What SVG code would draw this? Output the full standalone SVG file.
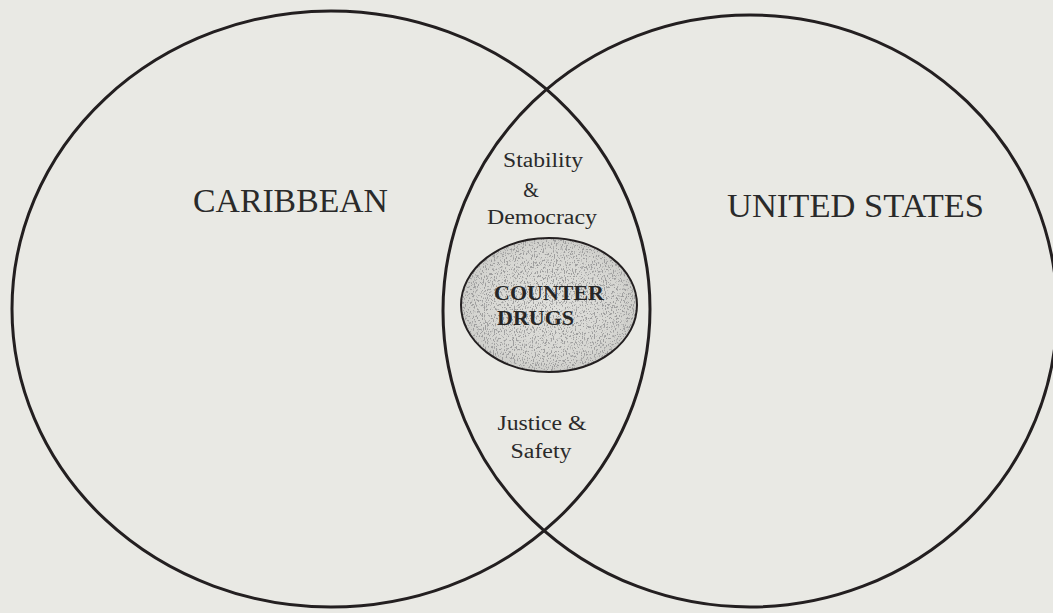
<svg xmlns="http://www.w3.org/2000/svg" width="1053" height="613" viewBox="0 0 1053 613">
  <style>
    .ring { fill: none; stroke: #231f20; stroke-width: 3; }
    .big { font-family: "Liberation Serif", "Times New Roman", serif; font-size: 34px; fill: #2a2a2a; }
    .small { font-family: "Liberation Serif", "Times New Roman", serif; font-size: 20px; fill: #2a2a2a; text-anchor: middle; }
    .core { font-family: "Liberation Serif", "Times New Roman", serif; font-size: 22px; font-weight: bold; fill: #262626; }
  </style>
  <defs>
    <radialGradient id="ovalFill" cx="0.5" cy="0.5" r="0.55">
      <stop offset="0" stop-color="#e0e0dc"/>
      <stop offset="0.75" stop-color="#d6d6d2"/>
      <stop offset="1" stop-color="#c8c8c4"/>
    </radialGradient>
    <filter id="speck" filterUnits="objectBoundingBox" x="0" y="0" width="1" height="1">
      <feTurbulence type="fractalNoise" baseFrequency="0.9 0.45" numOctaves="3" seed="11" result="noise"/>
      <feColorMatrix in="noise" type="matrix" values="0 0 0 0 0.35  0 0 0 0 0.35  0 0 0 0 0.35  0 0 0 9 -4.9" result="spots"/>
      <feComposite in="spots" in2="SourceGraphic" operator="in"/>
    </filter>
  </defs>
  <rect x="0" y="0" width="1053" height="613" fill="#e9e9e4"/>

  <g id="caribbean">
    <ellipse class="ring" cx="331" cy="309" rx="319" ry="298"/>
    <text class="big" x="193" y="212" textLength="195" lengthAdjust="spacingAndGlyphs">CARIBBEAN</text>
  </g>

  <g id="united-states">
    <ellipse class="ring" cx="750" cy="311" rx="307" ry="296"/>
    <text class="big" x="727" y="217" textLength="257" lengthAdjust="spacingAndGlyphs">UNITED STATES</text>
  </g>

  <g id="shared-interests">
    <text class="small" x="543" y="167" textLength="80" lengthAdjust="spacingAndGlyphs">Stability</text>
    <text class="small" x="531" y="197">&amp;</text>
    <text class="small" x="542" y="224" textLength="110" lengthAdjust="spacingAndGlyphs">Democracy</text>
    <text class="small" x="542" y="430" textLength="89" lengthAdjust="spacingAndGlyphs">Justice &amp;</text>
    <text class="small" x="541" y="458" textLength="61" lengthAdjust="spacingAndGlyphs">Safety</text>
  </g>

  <g id="counter-drugs">
    <ellipse cx="549" cy="305" rx="88" ry="67" fill="url(#ovalFill)"/>
    <ellipse cx="549" cy="305" rx="88" ry="67" fill="#000" filter="url(#speck)"/>
    <ellipse cx="549" cy="305" rx="88" ry="67" fill="none" stroke="#231f20" stroke-width="2"/>
    <text class="core" x="494" y="300" textLength="110" lengthAdjust="spacingAndGlyphs">COUNTER</text>
    <text class="core" x="497" y="325" textLength="77" lengthAdjust="spacingAndGlyphs">DRUGS</text>
  </g>
</svg>
